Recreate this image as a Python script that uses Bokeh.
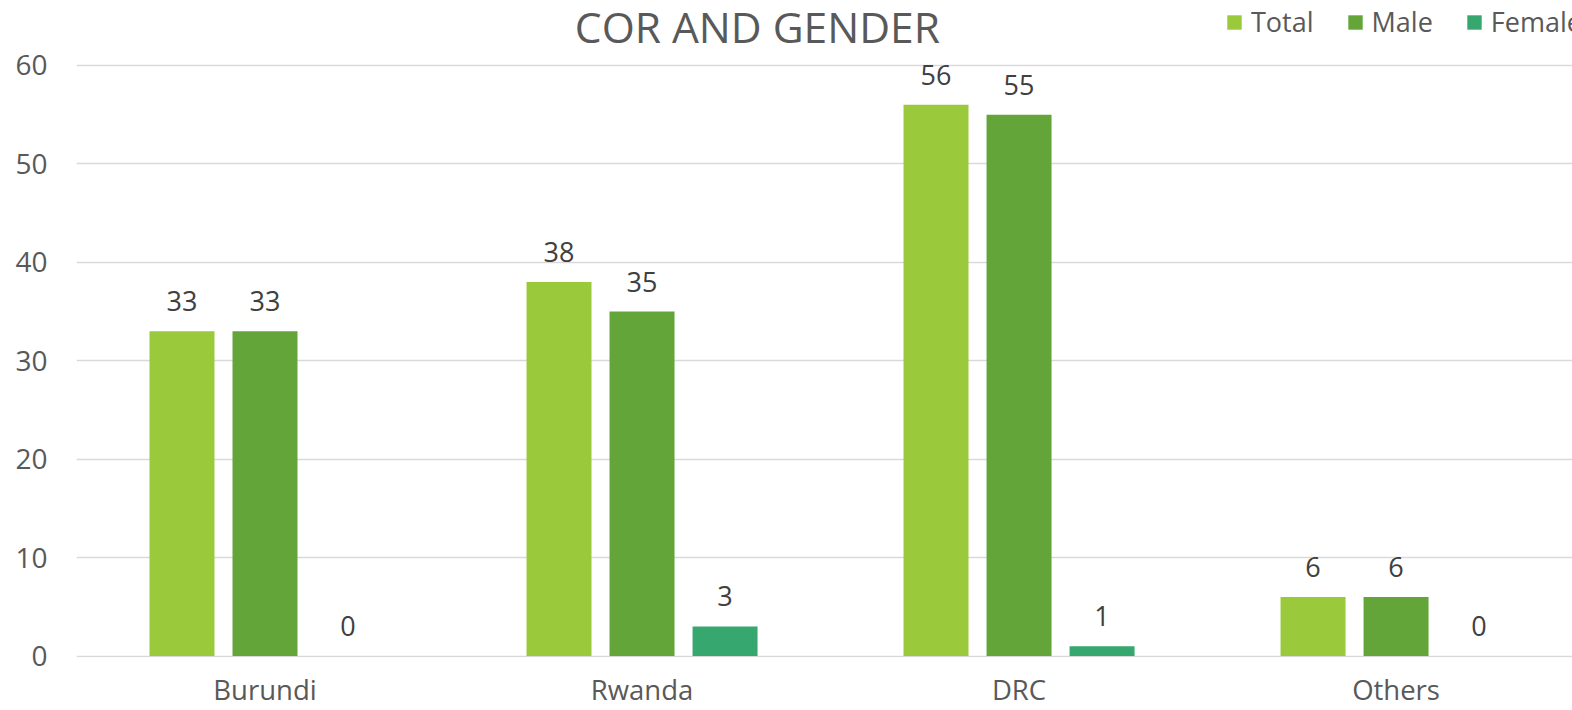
from bokeh.plotting import figure
from bokeh.models import (ColumnDataSource, Range1d, FixedTicker, LabelSet, Label,
                          Legend, LegendItem)
from bokeh.core.properties import value
from bokeh.transform import dodge
from bokeh.embed import file_html
from bokeh.resources import INLINE

categories = ["Burundi", "Rwanda", "DRC", "Others"]
total = [33, 38, 56, 6]
male = [33, 35, 55, 6]
female = [0, 3, 1, 0]
series_names = ["Total", "Male", "Female"]
colors = ["#9ACA3C", "#63A538", "#36A86F"]
y_ticks = [0, 10, 20, 30, 40, 50, 60]

FONT = "Open Sans"
idx = list(range(len(categories)))

p = figure(width=1572, height=710, output_backend="svg", toolbar_location=None,
           x_range=Range1d(-0.5, 3.468), y_range=Range1d(-0.15, 66.6),
           min_border_left=76, min_border_right=0, min_border_top=0,
           min_border_bottom=50, title=None)
p.outline_line_color = None
p.background_fill_color = "white"
p.border_fill_color = "white"

p.xgrid.visible = False
p.ygrid.ticker = FixedTicker(ticks=y_ticks)
p.ygrid.grid_line_color = "#D9D9D9"
p.ygrid.grid_line_width = 1.5

p.yaxis.ticker = FixedTicker(ticks=y_ticks)
p.yaxis.axis_line_color = None
p.yaxis.major_tick_line_color = None
p.yaxis.minor_tick_line_color = None
p.yaxis.major_tick_out = 0
p.yaxis.major_tick_in = 0
p.yaxis.minor_tick_out = 0
p.yaxis.major_label_text_font = FONT
p.yaxis.major_label_text_font_size = "28px"
p.yaxis.major_label_text_color = "#595959"
p.yaxis.major_label_standoff = 29

p.xaxis.ticker = FixedTicker(ticks=idx)
p.xaxis.major_label_overrides = {i: c for i, c in enumerate(categories)}
p.xaxis.axis_line_color = None
p.xaxis.major_tick_line_color = None
p.xaxis.minor_tick_line_color = None
p.xaxis.major_tick_out = 0
p.xaxis.major_tick_in = 0
p.xaxis.minor_tick_out = 0
p.xaxis.major_label_text_font = FONT
p.xaxis.major_label_text_font_size = "27.5px"
p.xaxis.major_label_text_color = "#595959"
p.xaxis.major_label_standoff = 13

offsets = [-0.2202, 0.0, 0.2202]
items = []
for name, vals, col, off in zip(series_names, [total, male, female], colors, offsets):
    src = ColumnDataSource(dict(idx=idx, v=vals, lbl=[str(v) for v in vals]))
    r = p.vbar(x=dodge("idx", off), top="v", width=0.1724, source=src,
               fill_color=col, line_color=None)
    items.append(LegendItem(label=name, renderers=[r]))
    ls = LabelSet(x=dodge("idx", off), y="v", text="lbl", source=src,
                  text_align="center", text_baseline="alphabetic", y_offset=20,
                  text_font=value(FONT), text_font_size=value("27px"),
                  text_color="#404040")
    p.add_layout(ls)

title = Label(x=1.306, y=63.95, text="COR AND GENDER", text_align="center",
              text_baseline="middle", text_font=FONT, text_font_size="42.5px",
              text_color="#595959")
p.add_layout(title)

legend = Legend(items=items, orientation="horizontal", location=(1149, 617),
                glyph_width=18, glyph_height=18, label_standoff=8, spacing=32,
                padding=0, margin=0, border_line_color=None,
                background_fill_alpha=0, label_text_font=FONT,
                label_text_font_size="27px", label_text_color="#595959",
                label_height=30)
p.add_layout(legend, "center")

open("out.html", "w").write(file_html(p, INLINE))
